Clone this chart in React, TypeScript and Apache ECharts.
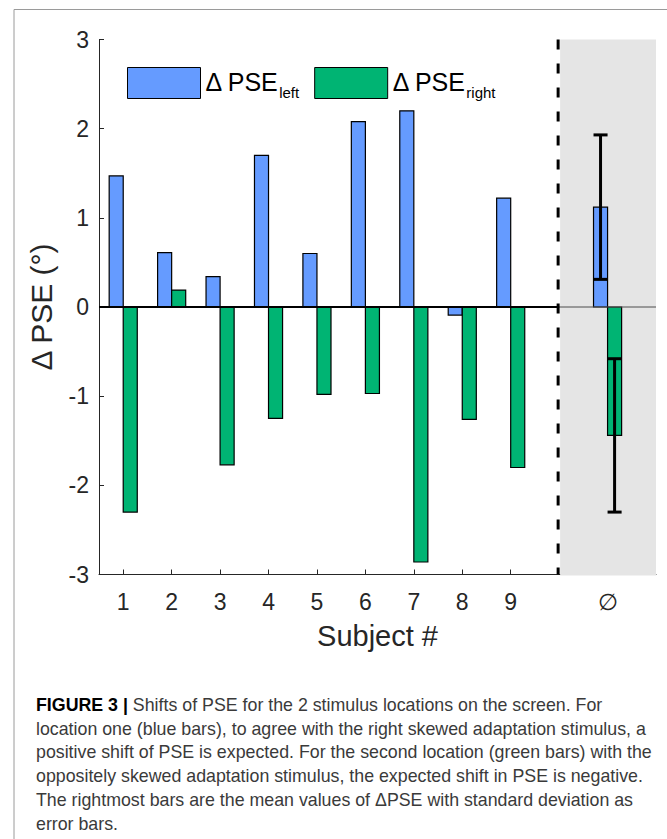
import React, { useEffect, useRef } from "react";
import * as echarts from "echarts";

// ---- data ----
const subjects = [1, 2, 3, 4, 5, 6, 7, 8, 9];
const deltaLeft = [1.47, 0.61, 0.34, 1.7, 0.6, 2.08, 2.2, -0.09, 1.22];
const deltaRight = [-2.3, 0.19, -1.77, -1.25, -0.98, -0.97, -2.86, -1.26, -1.8];
const meanPosition = 11;
const meanLeft = 1.12;
const meanRight = -1.44;
const sdLeft = 0.81;
const sdRight = 0.86;
const xTickValues = [1, 2, 3, 4, 5, 6, 7, 8, 9];
const xLabelValues = [1, 2, 3, 4, 5, 6, 7, 8, 9, 11];
const meanLabel = "∅";
const separatorX = 10;
const shadedRange = [10, 12];
const seriesNames = ["Δ PSE left", "Δ PSE right"];
const captionLines = [
  "Shifts of PSE for the 2 stimulus locations on the screen. For",
  "location one (blue bars), to agree with the right skewed adaptation stimulus, a",
  "positive shift of PSE is expected. For the second location (green bars) with the",
  "oppositely skewed adaptation stimulus, the expected shift in PSE is negative.",
  "The rightmost bars are the mean values of ΔPSE with standard deviation as",
  "error bars.",
];
const captionLead = "FIGURE 3 |";

const BLUE = "#659bff";
const GREEN = "#00b473";
const AXIS = "#262626";
const FONT = "Liberation Sans, Arial, Helvetica, sans-serif";
const BAR_W = 0.29;

function barSeries(name: string, data: number[][], side: number, color: string) {
  return {
    type: "custom",
    name,
    z: 3,
    data,
    encode: { x: 0, y: 1 },
    itemStyle: { color, borderColor: "#000", borderWidth: 1 },
    renderItem: (_p: any, api: any) => {
      const x = api.value(0);
      const v = api.value(1);
      const x0 = side < 0 ? x - BAR_W : x;
      const a = api.coord([x0, v]);
      const b = api.coord([x0 + BAR_W, 0]);
      return {
        type: "rect",
        shape: {
          x: Math.min(a[0], b[0]),
          y: Math.min(a[1], b[1]),
          width: Math.abs(b[0] - a[0]),
          height: Math.abs(b[1] - a[1]),
        },
        style: { fill: color, stroke: "#000", lineWidth: 1.2 },
      };
    },
  };
}

export default function App() {
  const ref = useRef<HTMLDivElement>(null);
  useEffect(() => {
    if (!ref.current) return;
    const chart = echarts.init(ref.current, null, { renderer: "svg" });

    const leftData = subjects.map((s, i) => [s, deltaLeft[i]]).concat([[meanPosition, meanLeft]]);
    const rightData = subjects.map((s, i) => [s, deltaRight[i]]).concat([[meanPosition, meanRight]]);
    const errData = [
      [meanPosition, meanLeft, sdLeft, -1],
      [meanPosition, meanRight, sdRight, 1],
    ];

    const option: any = {
      animation: false,
      backgroundColor: "#fff",
      grid: { left: 99, right: 11, top: 39.5, bottom: 264.5, containLabel: false },
      legend: {
        left: 127,
        top: 67,
        padding: 0,
        itemWidth: 73,
        itemHeight: 31,
        itemGap: 15,
        icon: "rect",
        selectedMode: false,
        data: [
          { name: seriesNames[0], itemStyle: { color: BLUE, borderColor: "#000", borderWidth: 1 } },
          { name: seriesNames[1], itemStyle: { color: GREEN, borderColor: "#000", borderWidth: 1 } },
        ],
        formatter: (name: string) => {
          const sub = name.split(" ").pop();
          return `{m|Δ PSE}{s|${sub}}`;
        },
        textStyle: {
          fontFamily: FONT,
          rich: {
            m: { fontSize: 25, fontFamily: FONT, color: "#000", verticalAlign: "top", padding: [3, 0, 0, 0] },
            s: { fontSize: 15, fontFamily: FONT, color: "#000", verticalAlign: "top", padding: [19, 0, 0, 0] },
          },
        },
      },
      xAxis: {
        type: "value",
        min: 0.5,
        max: 12,
        splitLine: { show: false },
        axisLine: { show: true, onZero: false, lineStyle: { color: AXIS, width: 1 } },
        axisTick: { show: true, inside: true, length: 5, customValues: xTickValues, lineStyle: { color: AXIS } },
        axisLabel: {
          customValues: xLabelValues,
          formatter: (v: number) => (v === meanPosition ? meanLabel : String(v)),
          fontSize: 23,
          fontFamily: FONT,
          color: AXIS,
          margin: 16,
        },
        name: "Subject #",
        nameLocation: "middle",
        nameGap: 47,
        nameTextStyle: { fontSize: 29, fontFamily: FONT, color: AXIS },
      },
      yAxis: {
        type: "value",
        min: -3,
        max: 3,
        interval: 1,
        splitLine: { show: false },
        axisLine: { show: true, onZero: false, lineStyle: { color: AXIS, width: 1 } },
        axisTick: { show: true, inside: true, length: 5, lineStyle: { color: AXIS } },
        axisLabel: { fontSize: 23, fontFamily: FONT, color: AXIS, margin: 10 },
        name: "Δ PSE (°)",
        nameLocation: "middle",
        nameGap: 43,
        nameTextStyle: { fontSize: 30, fontFamily: FONT, color: AXIS },
      },
      series: [
        {
          type: "custom",
          name: "shade",
          z: 1,
          silent: true,
          data: [[shadedRange[0], shadedRange[1], -3, 3]],
          encode: { x: [0, 1], y: [2, 3] },
          renderItem: (_p: any, api: any) => {
            const a = api.coord([api.value(0), api.value(3)]);
            const b = api.coord([api.value(1), api.value(2)]);
            return {
              type: "rect",
              shape: { x: a[0] + 1, y: a[1], width: b[0] - a[0] - 1, height: b[1] - a[1] + 1 },
              style: { fill: "#e5e5e5" },
            };
          },
        },
        barSeries(seriesNames[0], leftData, -1, BLUE),
        barSeries(seriesNames[1], rightData, 1, GREEN),
        {
          type: "custom",
          name: "baseline",
          z: 4,
          silent: true,
          data: [[0.5, separatorX, shadedRange[1]]],
          encode: { x: [0, 1, 2] },
          renderItem: (_p: any, api: any) => {
            const a = api.coord([api.value(0), 0]);
            const m = api.coord([api.value(1), 0]);
            const e = api.coord([api.value(2), 0]);
            return {
              type: "group",
              children: [
                { type: "line", shape: { x1: a[0], y1: a[1], x2: m[0], y2: m[1] }, style: { stroke: "#000", lineWidth: 2 } },
                { type: "line", shape: { x1: m[0], y1: m[1], x2: e[0], y2: e[1] }, style: { stroke: "#4d4d4d", lineWidth: 1 } },
              ],
            };
          },
        },
        {
          type: "custom",
          name: "separator",
          z: 4,
          silent: true,
          data: [[separatorX, -3, 3]],
          encode: { x: 0, y: [1, 2] },
          renderItem: (_p: any, api: any) => {
            const a = api.coord([api.value(0), api.value(2)]);
            const b = api.coord([api.value(0), api.value(1)]);
            return {
              type: "line",
              shape: { x1: a[0] - 1, y1: a[1], x2: b[0] - 1, y2: b[1] },
              style: { stroke: "#000", lineWidth: 3, lineDash: [10, 14] },
            };
          },
        },
        {
          type: "custom",
          name: "sd",
          z: 5,
          silent: true,
          data: errData,
          encode: { x: 0, y: 1 },
          renderItem: (_p: any, api: any) => {
            const xc = api.value(0) + (api.value(3) * BAR_W) / 2;
            const m = api.value(1);
            const sd = api.value(2);
            const top = api.coord([xc, m + sd]);
            const bot = api.coord([xc, m - sd]);
            const l = api.coord([xc - BAR_W / 2, m])[0];
            const r = api.coord([xc + BAR_W / 2, m])[0];
            const st = { stroke: "#000", lineWidth: 3 };
            return {
              type: "group",
              children: [
                { type: "line", shape: { x1: top[0], y1: top[1], x2: bot[0], y2: bot[1] }, style: st },
                { type: "line", shape: { x1: l, y1: top[1], x2: r, y2: top[1] }, style: st },
                { type: "line", shape: { x1: l, y1: bot[1], x2: r, y2: bot[1] }, style: st },
              ],
            };
          },
        },
      ],
      graphic: [
        { type: "line", shape: { x1: 14, y1: 9.5, x2: 667, y2: 9.5 }, style: { stroke: "#9a9a9a", lineWidth: 1 }, silent: true },
        { type: "line", shape: { x1: 14, y1: 9.5, x2: 14, y2: 839 }, style: { stroke: "#9a9a9a", lineWidth: 1 }, silent: true },
        ...captionLines.map((t, i) => ({
          type: "text",
          left: 36,
          top: 696 + i * 23.7,
          silent: true,
          style: {
            text: i === 0 ? `{b|${captionLead}} ${t}` : t,
            fontSize: 17.8,
            fontFamily: FONT,
            fill: "#3a3a3a",
            rich: {
              b: { fontSize: 17.8, fontFamily: FONT, fontWeight: "bold", fill: "#000" },
            },
          },
        })),
      ],
    };
    chart.setOption(option);
    return () => chart.dispose();
  }, []);
  return <div ref={ref} style={{ position: "absolute", left: 0, top: 0, width: 667, height: 839 }} />;
}
